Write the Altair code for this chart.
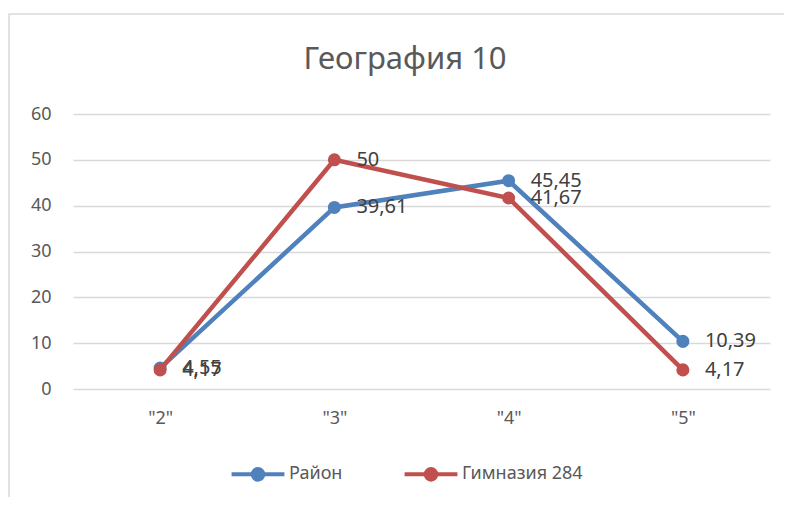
import altair as alt
import pandas as pd

title_text = "География 10"
categories = ['"2"', '"3"', '"4"', '"5"']
series_names = ["Район", "Гимназия 284"]
rayon = [4.55, 39.61, 45.45, 10.39]
gym = [4.17, 50, 41.67, 4.17]
colors = ["#4F81BD", "#C0504D"]

rows = []
for s, vals in zip(series_names, [rayon, gym]):
    for c, v in zip(categories, vals):
        rows.append({"cat": c, "val": v, "series": s,
                     "label": (f"{v:g}").replace(".", ",")})
df = pd.DataFrame(rows)

FONT = "Noto Sans"
W, H = 697, 275

x = alt.X("cat:N", sort=categories, title=None,
          axis=alt.Axis(labelAngle=0, labelFontSize=18, labelColor="#595959",
                        labelFont=FONT, ticks=False, domain=False, labelPadding=20,
                        grid=False))
y = alt.Y("val:Q", title=None, scale=alt.Scale(domain=[0, 60], nice=False),
          axis=alt.Axis(values=[0, 10, 20, 30, 40, 50, 60], labelFontSize=18,
                        labelColor="#595959", labelFont=FONT, ticks=False,
                        domain=False, labelPadding=22, gridColor="#D9D9D9",
                        gridWidth=1.5))
color = alt.Color("series:N", sort=series_names,
                  scale=alt.Scale(domain=series_names, range=colors),
                  legend=alt.Legend(title=None, orient="none", direction="horizontal",
                                    legendX=166, legendY=341,
                                    symbolType="M-1.6,0 L1.6,0 M0.32,0 A0.32,0.32 0 1 1 -0.32,0 A0.32,0.32 0 1 1 0.32,0",
                                    symbolSize=1090, symbolStrokeWidth=4,
                                    labelFontSize=18, labelColor="#595959",
                                    labelFont=FONT, columnPadding=53, labelOffset=12))

border = alt.Chart(pd.DataFrame({"a": [0]})).mark_rect(
    fill=None, stroke="#D9D9D9", strokeWidth=1.5, clip=False
).encode(x=alt.value(-64), x2=alt.value(W + 200), y=alt.value(-100), y2=alt.value(H + 200))

title = alt.Chart(pd.DataFrame({"t": [title_text]})).mark_text(
    fontSize=31, font=FONT, color="#595959", align="center", baseline="middle"
).encode(x=alt.value(332), y=alt.value(-54), text="t:N")

base = alt.Chart(df)
layers = [border, title]
for s in series_names:
    sub = base.transform_filter(alt.datum.series == s)
    layers.append(sub.mark_line(strokeWidth=4.5).encode(x=x, y=y, color=color))
    layers.append(sub.mark_point(filled=True, size=170, opacity=1).encode(x=x, y=y, color=color))
for s in series_names:
    sub = base.transform_filter(alt.datum.series == s)
    layers.append(sub.mark_text(align="left", baseline="middle", dx=22, fontSize=20,
                                font=FONT, color="#404040").encode(x=x, y=y, text="label:N"))

chart = alt.layer(*layers).properties(
    width=W, height=H,
    autosize=alt.AutoSizeParams(type="none"),
    padding={"left": 65, "top": 106, "right": 14, "bottom": 108},
).configure_view(stroke=None).configure_scale(bandPaddingInner=0, bandPaddingOuter=0)

chart.save("out.html", embed_options={"renderer": "svg", "actions": False})
